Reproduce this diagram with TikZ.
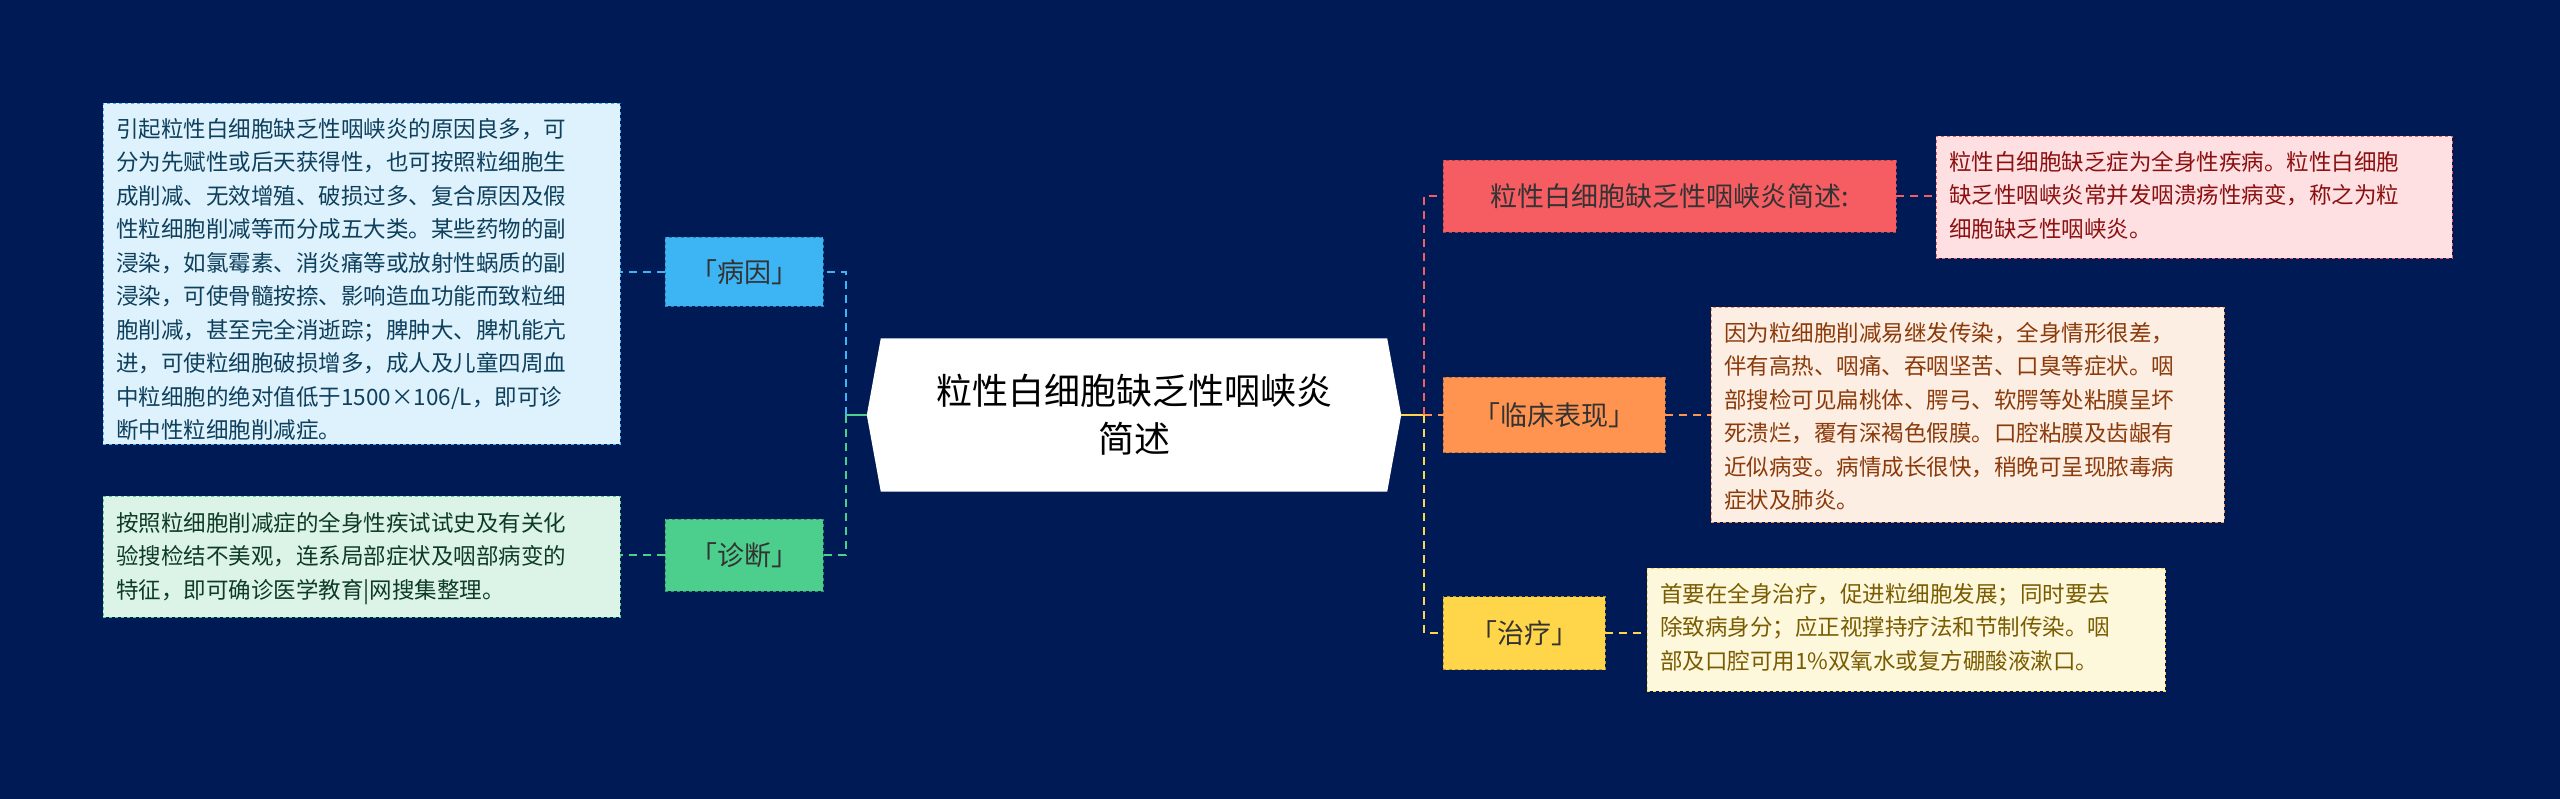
\documentclass[tikz,border=0pt]{standalone}
\usepackage{fontspec}
\setmainfont{Noto Sans CJK SC}
\definecolor{bg}{HTML}{001A55}
\definecolor{cB}{HTML}{3DB5F5}\definecolor{tB}{HTML}{DDF2FC}\definecolor{kB}{HTML}{0E3F5C}
\definecolor{cG}{HTML}{4CCE8C}\definecolor{tG}{HTML}{DCF4E8}\definecolor{kG}{HTML}{0E3B26}
\definecolor{cR}{HTML}{F55D62}\definecolor{tR}{HTML}{FFE0E2}\definecolor{kR}{HTML}{8B1010}
\definecolor{cO}{HTML}{FF9450}\definecolor{tO}{HTML}{FDEEE3}\definecolor{kO}{HTML}{8B3A0A}
\definecolor{cY}{HTML}{FFD54A}\definecolor{tY}{HTML}{FDF7DC}\definecolor{kY}{HTML}{7A5C00}
\tikzset{
 br/.style={draw=#1!70!black,dashed,fill=#1,font=\fontsize{27}{32}\selectfont,text=black!80,inner sep=0pt,anchor=west},
 tx/.style={dashed,inner sep=0pt,anchor=north west,align=left},
 bt/.style={anchor=north west,align=left,text=#1,font=\fontsize{22.5}{33.5}\selectfont,inner sep=0pt},
 ln/.style={line width=2pt,draw=#1,dash pattern=on 8pt off 6pt},
}
\begin{document}
\begin{tikzpicture}[x=1pt,y=-1pt]
\fill[bg] (0,0) rectangle (2560,799);
\useasboundingbox (0,0) rectangle (2560,799);
% root
\node[minimum width=534pt,minimum height=153pt,align=center,font=\fontsize{36}{48}\selectfont,inner sep=0pt] (root) at (1134,415) {};
\fill[white] (root.west) -- ([xshift=14pt]root.north west) -- ([xshift=-14pt]root.north east) -- (root.east) -- ([xshift=-14pt]root.south east) -- ([xshift=14pt]root.south west) -- cycle;
\node[align=center,font=\fontsize{36}{48}\selectfont,inner sep=0pt] (rootlabel) at (root.center) {粒性白细胞缺乏性咽峡炎\\简述};
% branches
\node[br=cB,minimum width=158pt,minimum height=69pt] (b1) at (665,272) {「病因」};
\node[br=cG,minimum width=158pt,minimum height=72pt] (b2) at (665,555) {「诊断」};
\node[br=cR,minimum width=453pt,minimum height=72pt] (b3) at (1443,196) {粒性白细胞缺乏性咽峡炎简述:};
\node[br=cO,minimum width=222pt,minimum height=75pt] (b4) at (1443,415) {「临床表现」};
\node[br=cY,minimum width=162pt,minimum height=73pt] (b5) at (1443,633) {「治疗」};
% texts
\node[tx,draw=cB,fill=tB,minimum width=517pt,minimum height=341pt] (t1) at (103,103) {};
\node[bt=kB] (p1) at (116,118) {引起粒性白细胞缺乏性咽峡炎的原因良多，可\\分为先赋性或后天获得性，也可按照粒细胞生\\成削减、无效增殖、破损过多、复合原因及假\\性粒细胞削减等而分成五大类。某些药物的副\\浸染，如氯霉素、消炎痛等或放射性蜗质的副\\浸染，可使骨髓按捺、影响造血功能而致粒细\\胞削减，甚至完全消逝踪；脾肿大、脾机能亢\\进，可使粒细胞破损增多，成人及儿童四周血\\中粒细胞的绝对值低于1500×106/L，即可诊\\断中性粒细胞削减症。};
\node[tx,draw=cG,fill=tG,minimum width=517pt,minimum height=121pt] (t2) at (103,496) {};
\node[bt=kG] (p2) at (116,512) {按照粒细胞削减症的全身性疾试试史及有关化\\验搜检结不美观，连系局部症状及咽部病变的\\特征，即可确诊医学教育|网搜集整理。};
\node[tx,draw=cR,fill=tR,minimum width=516pt,minimum height=122pt] (t3) at (1936,136) {};
\node[bt=kR] (p3) at (1949,151) {粒性白细胞缺乏症为全身性疾病。粒性白细胞\\缺乏性咽峡炎常并发咽溃疡性病变，称之为粒\\细胞缺乏性咽峡炎。};
\node[tx,draw=cO,fill=tO,minimum width=513pt,minimum height=215pt] (t4) at (1711,307) {};
\node[bt=kO] (p4) at (1724,322) {因为粒细胞削减易继发传染，全身情形很差，\\伴有高热、咽痛、吞咽坚苦、口臭等症状。咽\\部搜检可见扁桃体、腭弓、软腭等处粘膜呈坏\\死溃烂，覆有深褐色假膜。口腔粘膜及齿龈有\\近似病变。病情成长很快，稍晚可呈现脓毒病\\症状及肺炎。};
\node[tx,draw=cY,fill=tY,minimum width=518pt,minimum height=123pt] (t5) at (1647,568) {};
\node[bt=kY] (p5) at (1660,583) {首要在全身治疗，促进粒细胞发展；同时要去\\除致病身分；应正视撑持疗法和节制传染。咽\\部及口腔可用1\%双氧水或复方硼酸液漱口。};
% connectors
\coordinate (L) at (846,415);
\coordinate (R) at (1424,415);
\draw[line width=2pt,cG] (root.west) -- (L);
\draw[line width=2pt,cY] (root.east) -- (R);
\draw[ln=cB] (L) |- (b1.east);
\draw[ln=cG] (L) |- (b2.east);
\draw[ln=cR] (R) |- (b3.west);
\draw[ln=cO] (R) -- (b4.west);
\draw[ln=cY] (R) |- (b5.west);
\draw[ln=cB] (b1.west) -- (t1.east|-b1.west);
\draw[ln=cG] (b2.west) -- (t2.east|-b2.west);
\draw[ln=cR] (b3.east) -- (t3.west|-b3.east);
\draw[ln=cO] (b4.east) -- (t4.west|-b4.east);
\draw[ln=cY] (b5.east) -- (t5.west|-b5.east);
\end{tikzpicture}
\end{document}
